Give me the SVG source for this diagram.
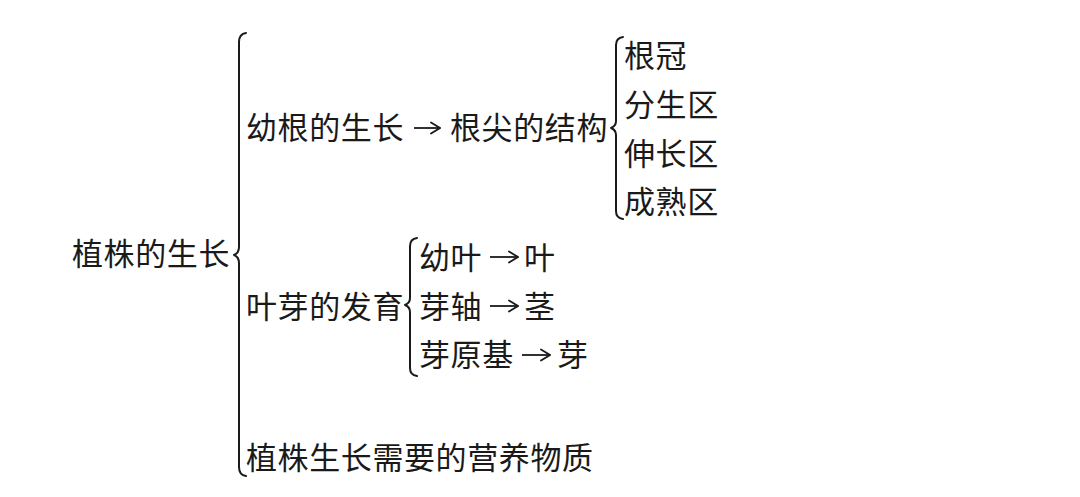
<svg xmlns="http://www.w3.org/2000/svg" width="1080" height="497" viewBox="0 0 1080 497">
<style>
text{font-family:"Noto Sans CJK SC","Liberation Serif",serif;font-size:31px;letter-spacing:0.6px;fill:#1a1a1a;}
.brace{fill:none;stroke:#1a1a1a;stroke-width:2;stroke-linecap:round;stroke-linejoin:round;}
.arrow{fill:none;stroke:#1a1a1a;stroke-width:1.8;}
</style>
<defs>
<marker id="ah" viewBox="0 0 12 14" refX="11" refY="7" markerWidth="12" markerHeight="14" markerUnits="userSpaceOnUse" orient="auto">
<path d="M2,1.5 L11,7 L2,12.5" fill="none" stroke="#1a1a1a" stroke-width="1.8" stroke-linecap="round"/>
</marker>
</defs>
<rect width="1080" height="497" fill="#ffffff"/>
<g id="root"><text x="72" y="265">植株的生长</text></g>
<g id="root-brace"><path class="brace" d="M246,33 Q239,34 239,42 V247 Q239,253 234,255 Q239,257 239,263 V467 Q239,475 246,476"/></g>
<g id="n-root-growth"><text x="246" y="139">幼根的生长</text></g>
<g id="n-root-tip"><text x="450" y="139">根尖的结构</text></g>
<g id="root-tip-brace"><path class="brace" d="M623,37 Q616,38 616,45 V121 Q616,126 611,128 Q616,130 616,135 V211 Q616,218 623,219"/></g>
<g id="n-cap"><text x="624" y="67">根冠</text></g>
<g id="n-meristem"><text x="624" y="116">分生区</text></g>
<g id="n-elong"><text x="624" y="165">伸长区</text></g>
<g id="n-mature"><text x="624" y="213">成熟区</text></g>
<g id="n-bud"><text x="246" y="318">叶芽的发育</text></g>
<g id="bud-brace"><path class="brace" d="M417,238 Q410,239 410,246 V298 Q410,303 405,305 Q410,307 410,312 V368 Q410,375 417,376"/></g>
<g id="n-young-leaf"><text x="419" y="269">幼叶</text></g>
<g id="n-leaf"><text x="524" y="269">叶</text></g>
<g id="n-bud-axis"><text x="419" y="318">芽轴</text></g>
<g id="n-stem"><text x="524" y="318">茎</text></g>
<g id="n-primordium"><text x="419" y="366">芽原基</text></g>
<g id="n-new-bud"><text x="557" y="366">芽</text></g>
<g id="n-nutrients"><text x="246" y="469">植株生长需要的营养物质</text></g>
<g id="connectors">
<line class="arrow" x1="414" y1="128" x2="440" y2="128" marker-end="url(#ah)"/>
<line class="arrow" x1="490" y1="257" x2="518" y2="257" marker-end="url(#ah)"/>
<line class="arrow" x1="490" y1="306" x2="518" y2="306" marker-end="url(#ah)"/>
<line class="arrow" x1="522" y1="355" x2="550" y2="355" marker-end="url(#ah)"/>
</g>
</svg>
